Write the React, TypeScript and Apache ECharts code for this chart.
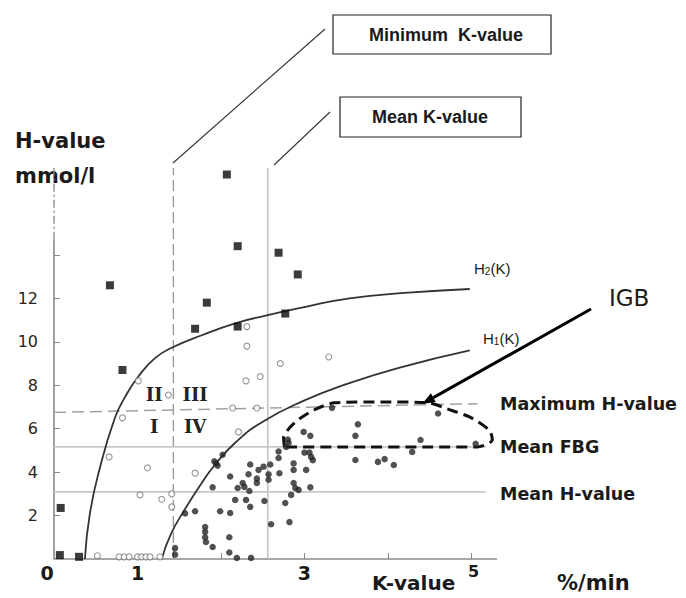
import React, { useEffect, useRef } from "react";
import * as echarts from "echarts";

// Curves H2(K) and H1(K)
const h2K = [0.37, 0.43, 0.55, 0.73, 0.85, 1.01, 1.21, 1.43, 1.77, 2.17, 2.56, 3.0, 3.54, 4.2, 4.98];
const h2H = [0, 2.1, 4.2, 6.5, 7.45, 8.4, 9.25, 9.76, 10.3, 10.85, 11.23, 11.6, 12.0, 12.25, 12.43];
const h1K = [1.29, 1.4, 1.57, 1.77, 1.93, 2.17, 2.49, 3.0, 3.5, 4.13, 4.98];
const h1H = [0, 1.15, 2.3, 3.5, 4.35, 5.35, 6.3, 7.3, 8.05, 8.8, 9.6];

// IGB outline (dashed)
const igbK = [2.76, 2.75, 2.88, 3.12, 3.36, 3.93, 4.49, 4.71, 5.0, 5.22, 5.25, 5.07, 4.5, 3.5, 2.76];
const igbH = [5.16, 5.58, 6.27, 6.87, 7.19, 7.23, 7.19, 6.91, 6.5, 5.9, 5.48, 5.16, 5.16, 5.16, 5.16];

// Scatter groups [K, H]
const squares = [
  [0.67, 12.6], [2.07, 17.7], [2.2, 14.4], [2.69, 14.1], [2.92, 13.1], [1.83, 11.8],
  [1.69, 10.6], [2.2, 10.7], [2.77, 11.3], [0.82, 8.7], [0.08, 2.35], [0.07, 0.18], [0.3, 0.1],
];
const circles = [
  [2.31, 10.7], [2.31, 9.8], [3.29, 9.3], [2.71, 9.0], [2.3, 8.2], [2.47, 8.4], [1.01, 8.2],
  [1.37, 7.55], [0.82, 6.5], [2.14, 6.95], [2.43, 6.95], [2.21, 5.85], [0.66, 4.7], [1.12, 4.2],
  [1.69, 3.95], [1.03, 2.95], [1.29, 2.75], [1.41, 3.0], [1.41, 2.4], [0.52, 0.15],
  [0.78, 0.1], [0.84, 0.1], [0.9, 0.1], [1.0, 0.1], [1.05, 0.1], [1.1, 0.1], [1.15, 0.1], [1.27, 0.1],
];
const dots = [
  [2.02, 4.8], [1.94, 4.4], [1.96, 4.3], [1.92, 4.5], [2.11, 3.8], [1.9, 3.3], [2.35, 4.35],
  [2.33, 3.9], [2.45, 4.1], [2.51, 4.25], [2.59, 4.35], [2.69, 4.65], [2.69, 4.95], [2.78, 5.16],
  [2.81, 5.35], [2.8, 5.5], [2.99, 5.85], [3.07, 5.67], [3.0, 4.9], [3.06, 4.9], [3.08, 4.7],
  [3.1, 4.55], [2.57, 3.9], [2.57, 3.65], [2.7, 3.95], [2.87, 4.4], [2.87, 4.1], [3.02, 4.1],
  [2.87, 3.5], [2.89, 3.27], [2.93, 3.18], [3.07, 3.3], [2.84, 2.95], [2.77, 2.58], [2.82, 1.7],
  [2.6, 1.6], [2.43, 3.7], [2.43, 3.5], [2.34, 3.13], [2.26, 3.5], [2.28, 3.32], [2.2, 3.27],
  [2.17, 2.72], [2.3, 2.72], [2.35, 2.4], [2.52, 2.67], [2.11, 2.12], [1.99, 2.2], [1.69, 2.2],
  [1.57, 2.1], [1.81, 1.47], [1.81, 1.25], [1.81, 1.0], [1.82, 0.78], [1.9, 0.55], [2.1, 1.0],
  [2.1, 0.3], [2.19, 0.05], [2.36, 0.05], [1.45, 0.5], [1.45, 0.2], [3.33, 6.96], [4.6, 6.7],
  [3.64, 6.2], [3.61, 5.67], [4.39, 5.48], [4.29, 4.93], [5.05, 5.3], [3.61, 4.56], [3.88, 4.47],
  [3.96, 4.6], [4.07, 4.33],
];

// Reference values
const minK = 1.43;
const meanK = 2.56;
const maxH = [6.75, 7.15];
const meanFBG = 5.16;
const meanH = 3.09;

// Quadrant labels
const quadNames = ["II", "III", "I", "IV"];
const quadK = [1.2, 1.69, 1.2, 1.69];
const quadH = [7.55, 7.55, 6.08, 6.08];

// Axis ticks / labels
const xLabels = [0, 1, 3, 5];
const xTicks = [1, 2, 3, 4, 5];
const yLabels = [2, 4, 6, 8, 10, 12];
const yTicks = [2, 4, 6, 8, 10, 12, 14];

const zip = (a: number[], b: number[]) => a.map((k, i) => [k, b[i]]);
const TXT = "#1a1a1a";
const BOLD = "DejaVu Sans";

export default function App() {
  const ref = useRef<HTMLDivElement>(null);
  useEffect(() => {
    const chart = echarts.init(ref.current!, null, { renderer: "svg" });
    const refLine = (data: number[][], color: string, type: any, width = 1.3) => ({
      type: "line",
      data,
      showSymbol: false,
      silent: true,
      z: 1,
      lineStyle: { color, type, width },
    });
    const arrowTip = [422, 404];
    const arrowStart = [591, 309];
    const dx = arrowTip[0] - arrowStart[0];
    const dy = arrowTip[1] - arrowStart[1];
    const len = Math.sqrt(dx * dx + dy * dy);
    const ux = dx / len, uy = dy / len;
    const bx = arrowTip[0] - 13 * ux, by = arrowTip[1] - 13 * uy;
    const px = -uy * 5, py = ux * 5;
    const subRich = {
      a: { fontFamily: "Liberation Sans", fontSize: 15, fill: TXT, color: TXT },
      b: { fontFamily: "Liberation Sans", fontSize: 10, fill: TXT, color: TXT, padding: [7, 0, 0, 0] },
    };

    const baseGraphic: any[] = [
      // leader lines to boxes
      { type: "line", shape: { x1: 173, y1: 163, x2: 325, y2: 29 }, style: { stroke: "#333", lineWidth: 1.1 } },
      { type: "line", shape: { x1: 274, y1: 165, x2: 330, y2: 112 }, style: { stroke: "#333", lineWidth: 1.1 } },
      { type: "rect", shape: { x: 333, y: 15, width: 218, height: 39 }, style: { fill: "#fff", stroke: "#222", lineWidth: 1.2 } },
      { type: "rect", shape: { x: 340, y: 97, width: 181, height: 40 }, style: { fill: "#fff", stroke: "#222", lineWidth: 1.2 } },
      {
        type: "text", x: 446, y: 35,
        style: { text: "Minimum  K-value", fill: TXT, font: "bold 18px 'Liberation Sans'", textAlign: "center", textVerticalAlign: "middle" },
      },
      {
        type: "text", x: 430, y: 117,
        style: { text: "Mean K-value", fill: TXT, font: "bold 18px 'Liberation Sans'", textAlign: "center", textVerticalAlign: "middle" },
      },
      // axis titles
      { type: "text", x: 15, y: 141, style: { text: "H-value", fill: TXT, font: "bold 21px 'DejaVu Sans'", textVerticalAlign: "middle" } },
      { type: "text", x: 15, y: 176, style: { text: "mmol/l", fill: TXT, font: "bold 21px 'DejaVu Sans'", textVerticalAlign: "middle" } },
      { type: "text", x: 372, y: 583, style: { text: "K-value", fill: TXT, font: "bold 20px 'DejaVu Sans'", textVerticalAlign: "middle" } },
      { type: "text", x: 557, y: 583, style: { text: "%/min", fill: TXT, font: "bold 21px 'DejaVu Sans'", textVerticalAlign: "middle" } },
      // right annotations
      { type: "text", x: 500, y: 404, style: { text: "Maximum H-value", fill: TXT, font: "bold 17.5px 'DejaVu Sans'", textVerticalAlign: "middle" } },
      { type: "text", x: 500, y: 447, style: { text: "Mean FBG", fill: TXT, font: "bold 17.5px 'DejaVu Sans'", textVerticalAlign: "middle" } },
      { type: "text", x: 500, y: 494, style: { text: "Mean H-value", fill: TXT, font: "bold 17.5px 'DejaVu Sans'", textVerticalAlign: "middle" } },
      { type: "text", x: 609, y: 298, style: { text: "IGB", fill: TXT, font: "23px 'DejaVu Sans'", textVerticalAlign: "middle" } },
      // curve labels
      { type: "text", x: 474, y: 268, style: { text: "{a|H}{b|2}{a|(K)}", textVerticalAlign: "middle", rich: subRich } },
      { type: "text", x: 483, y: 338, style: { text: "{a|H}{b|1}{a|(K)}", textVerticalAlign: "middle", rich: subRich } },
      // arrow
      { type: "line", shape: { x1: arrowStart[0], y1: arrowStart[1], x2: bx, y2: by }, style: { stroke: "#000", lineWidth: 3 } },
      {
        type: "polygon",
        shape: { points: [arrowTip, [bx + px, by + py], [bx - px, by - py]] },
        style: { fill: "#000" },
      },
    ];

    const option: any = {
      animation: false,
      backgroundColor: "#fff",
      grid: { left: 54, top: 168, width: 442.5, height: 391 },
      xAxis: {
        type: "value",
        min: 0,
        max: 5.3,
        interval: 1,
        splitLine: { show: false },
        axisLine: { show: true, lineStyle: { color: "#8a8a8a", width: 1.6 } },
        axisTick: { show: true, inside: true, length: 6, customValues: xTicks, lineStyle: { color: "#8a8a8a" } },
        axisLabel: {
          customValues: xLabels,
          margin: 4,
          color: TXT,
          fontFamily: BOLD,
          fontWeight: "bold",
          fontSize: 19,
          formatter: (v: number) => (v === 0 ? "{z|0}" : v === 5 ? "{f|5}" : String(v)),
          rich: {
            z: { padding: [0, 14, 0, 0], fontSize: 19, fontWeight: "bold", fontFamily: BOLD, color: TXT },
            f: { padding: [0, 0, 10, 4], fontSize: 16, fontWeight: "bold", fontFamily: BOLD, color: TXT },
          },
        },
      },
      yAxis: {
        type: "value",
        min: 0,
        max: 18,
        interval: 2,
        splitLine: { show: false },
        axisLine: { show: false },
        axisTick: { show: true, inside: true, length: 6, customValues: yTicks, lineStyle: { color: "#8a8a8a" } },
        axisLabel: {
          customValues: yLabels,
          margin: 16,
          color: "#2a2520",
          fontFamily: "DejaVu Sans",
          fontSize: 16,
        },
      },
      series: [
        refLine([[0, 0], [0, 14.7]], "#8a8a8a", "solid", 1.6),
        refLine([[0, 14.7], [0, 18]], "#8a8a8a", [8, 3, 2, 3], 1.4),
        refLine([[minK, 0], [minK, 18]], "#9a9a9a", [11, 5], 1.4),
        refLine([[meanK, 0], [meanK, 18]], "#c4c4c4", "solid", 1.6),
        refLine([[0, maxH[0]], [5.07, maxH[1]]], "#a0a0a0", [12, 6], 1.5),
        refLine([[0, meanFBG], [5.17, meanFBG]], "#c8c8c8", "solid", 1.6),
        refLine([[0, meanH], [5.17, meanH]], "#c8c8c8", "solid", 1.6),
        {
          type: "line",
          name: "H2(K)",
          data: zip(h2K, h2H),
          smooth: 0.5,
          showSymbol: false,
          lineStyle: { color: "#333", width: 1.8 },
          z: 2,
        },
        {
          type: "line",
          name: "H1(K)",
          data: zip(h1K, h1H),
          smooth: 0.5,
          showSymbol: false,
          lineStyle: { color: "#333", width: 1.8 },
          z: 2,
        },
        {
          type: "line",
          name: "IGB",
          data: zip(igbK, igbH),
          smooth: 0.25,
          showSymbol: false,
          lineStyle: { color: "#111", width: 3, type: [11, 6] },
          z: 4,
        },
        {
          type: "scatter",
          name: "squares",
          data: squares,
          symbol: "rect",
          symbolSize: 8,
          itemStyle: { color: "#0a0a0a" },
          z: 5,
        },
        {
          type: "scatter",
          name: "circles",
          data: circles,
          symbol: "circle",
          symbolSize: 6,
          itemStyle: { color: "#fff", borderColor: "#7a7a7a", borderWidth: 1.1 },
          z: 5,
        },
        {
          type: "scatter",
          name: "dots",
          data: dots,
          symbol: "circle",
          symbolSize: 6.5,
          itemStyle: { color: "#262626" },
          z: 6,
        },
      ],
      graphic: baseGraphic,
    };
    chart.setOption(option);

    // quadrant labels placed at data positions through the grid's scales
    const quadGraphic = quadNames.map((n, i) => {
      const p = chart.convertToPixel({ gridIndex: 0 }, [quadK[i], quadH[i]]) as number[];
      return {
        type: "text",
        x: p[0],
        y: p[1],
        z: 10,
        style: {
          text: n,
          fill: "#222",
          font: "bold 18px 'DejaVu Serif'",
          textAlign: "center",
          textVerticalAlign: "middle",
        },
      };
    });
    chart.setOption({ graphic: [...baseGraphic, ...quadGraphic] });
    return () => chart.dispose();
  }, []);
  return (
    <div
      ref={ref}
      style={{ position: "fixed", left: 0, top: 0, width: 686, height: 598, background: "#fff" }}
    />
  );
}
